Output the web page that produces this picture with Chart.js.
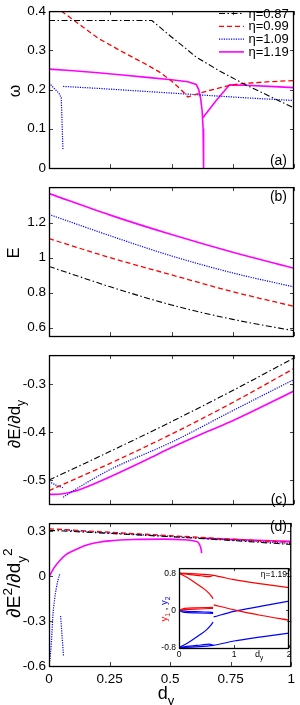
<!DOCTYPE html>
<html>
<head>
<meta charset="utf-8">
<script src="https://cdn.jsdelivr.net/npm/chart.js@4.4.1/dist/chart.umd.min.js"></script>
<style>
  html, body { margin: 0; padding: 0; background: #fff; }
  #wrap { position: relative; width: 300px; height: 705px; overflow: hidden; background: #fff; }
  #wrap canvas { position: absolute; }
</style>
</head>
<body>
<div id="wrap"></div>
<script>
// values
const etaLabels = ['η=0.87', 'η=0.99', 'η=1.09', 'η=1.19'];
const xTicks = [0, 0.25, 0.5, 0.75, 1];

// (a) omega vs dy  (null = break in the curve)
const dyA087 = [0, 0.42, 0.5, 0.55, 0.6, 0.7, 0.8, 0.9, 1];
const omega087 = [0.376, 0.376, 0.334, 0.309, 0.283, 0.246, 0.213, 0.183, 0.153];
const dyA099 = [0.05, 0.1, 0.2, 0.3, 0.4, 0.45, 0.5, 0.54, 0.567, 0.6, 0.65, 0.7, 0.737, 0.8, 0.9, 1];
const omega099 = [0.4, 0.377, 0.331, 0.296, 0.263, 0.245, 0.222, 0.199, 0.181, 0.188, 0.197, 0.205, 0.211, 0.216, 0.22, 0.223];
const dyA109 = [0, 0.041, 0.05, 0.052, 0.054, 0.057, 0.0572, 0.0575, 0.2, 0.4, 0.6, 0.8, 1];
const omega109 = [0.217, 0.19, 0.179, 0.14, 0.1, 0.045, null, 0.208, 0.203, 0.195, 0.187, 0.179, 0.172];
const dyA119 = [0, 0.1, 0.2, 0.3, 0.4, 0.5, 0.567, 0.601, 0.611, 0.619, 0.625, 0.629, 0.631, 0.6305, 0.628, 0.68, 0.737, 0.8, 0.9, 1];
const omega119 = [0.252, 0.248, 0.243, 0.237, 0.231, 0.225, 0.22, 0.213, 0.2, 0.177, 0.146, 0.1, 0, null, 0.128, 0.17, 0.212, 0.211, 0.208, 0.205];

// (b) E vs dy
const dyB = [0, 0.25, 0.5, 0.75, 1];
const energy087 = [0.95, 0.834, 0.73, 0.648, 0.583];
const energy099 = [1.109, 1.0, 0.902, 0.806, 0.722];
const energy109 = [1.247, 1.125, 1.01, 0.913, 0.833];
const energy119 = [1.366, 1.243, 1.132, 1.031, 0.94];

// (c) dE/ddy
const dyC = [0, 0.25, 0.5, 0.75, 1];
const slope087 = [-0.5, -0.44, -0.378, -0.313, -0.245];
const slope099 = [-0.522, -0.465, -0.404, -0.338, -0.267];
const dyC109 = [0, 0.03, 0.057, 0.0572, 0.0575, 0.1, 0.25, 0.5, 0.75, 1];
const slope109 = [-0.503, -0.511, -0.516, null, -0.536, -0.522, -0.478, -0.421, -0.355, -0.29];
const dyC119 = [0, 0.05, 0.1, 0.15, 0.25, 0.4, 0.5, 0.64, 0.75, 1];
const slope119 = [-0.53, -0.529, -0.524, -0.515, -0.493, -0.457, -0.432, -0.4, -0.376, -0.314];

// (d) d2E/ddy2
const dyD = [0, 0.25, 0.5, 0.75, 1];
const curv087 = [0.308, 0.287, 0.265, 0.24, 0.213];
const curv099 = [0.318, 0.295, 0.272, 0.249, 0.226];
const dyD109 = [0, 0.003, 0.01, 0.016, 0.023, 0.03, 0.037, 0.044, 0.046, 0.048, 0.054, 0.06, 0.0605, 0.061, 0.25, 0.5, 0.75, 1];
const curv109 = [-0.6, -0.568, -0.438, -0.265, -0.156, -0.081, -0.026, 0.013, null, -0.265, -0.4, -0.536, null, 0.31, 0.29, 0.268, 0.244, 0.22];
const dyD119 = [0, 0.02, 0.044, 0.07, 0.098, 0.153, 0.207, 0.25, 0.35, 0.478, 0.55, 0.6, 0.615, 0.622, 0.628, 0.63, 0.6302, 0.631, 0.75, 1];
const curv119 = [-0.003, 0.055, 0.104, 0.145, 0.169, 0.208, 0.228, 0.237, 0.246, 0.249, 0.245, 0.236, 0.228, 0.21, 0.18, 0.155, null, 0.255, 0.247, 0.234];

// inset: y1 (red), y2 (blue) vs dy, eta = 1.19
const inTicksX = [0, 1, 2];
const inTicksY = [-0.8, 0, 0.8];
const inDyOuter = [0, 0.3, 0.62, 1, 1.5, 2];
const inY1Outer = [0.8, 0.785, 0.755, 0.66, 0.57, 0.49];
const inY2Outer = [-0.8, -0.785, -0.755, -0.66, -0.57, -0.49];
const inDyLens = [0, 0.2, 0.4, 0.55, 0.62];
const inY1Lens = [0.8, 0.77, 0.745, 0.725, 0.75];
const inY2Lens = [-0.8, -0.77, -0.745, -0.725, -0.75];
const inDyDiag = [0, 0.1, 0.2, 0.3, 0.4, 0.5, 0.58, 0.62];
const inY1Diag = [0.8, 0.74, 0.67, 0.59, 0.51, 0.42, 0.32, 0.25];
const inY2Diag = [-0.8, -0.74, -0.67, -0.59, -0.51, -0.42, -0.32, -0.25];
const inDyMidA = [0, 0.1, 0.3, 0.62];
const inY1MidA = [0, 0.045, 0.055, 0.065];
const inY2MidA = [0, -0.045, -0.055, -0.065];
const inDyMidB = [0, 0.15, 0.4, 0.62];
const inY1MidB = [0, 0.02, 0.03, 0.045];
const inY2MidB = [0, -0.02, -0.03, -0.045];
const inDyAfter = [0.63, 1, 1.5, 2];
const inY1After = [0.12, 0.01, -0.11, -0.21];
const inY2After = [-0.14, -0.02, 0.09, 0.2];

const FONT = "'Liberation Sans', Arial, sans-serif";
Chart.defaults.font.family = FONT;

const styles = [
    { color: '#000000', dash: [6, 2.5, 1.5, 2.5], width: 1.1 },
    { color: '#ff0000', dash: [5, 3], width: 1.3 },
    { color: '#0000ff', dash: [1.2, 1.2], width: 1.2 },
    { color: '#ff00ff', dash: [], width: 1.6 }
];

function series(dy, vals, k, smooth) {
    return {
        data: dy.map((x, i) => ({ x: x, y: vals[i] })),
        borderColor: styles[k].color,
        borderDash: styles[k].dash,
        borderWidth: styles[k].width,
        pointRadius: 0,
        fill: false,
        spanGaps: false,
        tension: 0,
        cubicInterpolationMode: smooth ? 'monotone' : 'default'
    };
}

function insetLine(dy, vals, color) {
    return {
        data: dy.map((x, i) => ({ x: x, y: vals[i] })),
        borderColor: color,
        borderWidth: 1.2,
        pointRadius: 0,
        fill: false,
        cubicInterpolationMode: 'monotone'
    };
}

// text with sub/superscripts; parts = [text, level(-1 sub, 0, 1 sup), color]
function drawRich(ctx, parts, x, y, size, rotate, align) {
    ctx.save();
    ctx.translate(x, y);
    if (rotate) ctx.rotate(-Math.PI / 2);
    let total = 0;
    const widths = parts.map(p => {
        ctx.font = (p[1] ? size * 0.72 : size) + 'px ' + FONT;
        const w = ctx.measureText(p[0]).width;
        total += w;
        return w;
    });
    let cx = align === 'right' ? -total : (align === 'left' ? 0 : -total / 2);
    ctx.textAlign = 'left';
    ctx.textBaseline = 'alphabetic';
    parts.forEach((p, i) => {
        ctx.font = (p[1] ? size * 0.72 : size) + 'px ' + FONT;
        ctx.fillStyle = p[2] || '#000';
        const shift = p[1] === -1 ? size * 0.3 : (p[1] === 1 ? -size * 0.42 : 0);
        ctx.fillText(p[0], cx, size * 0.36 + shift);
        cx += widths[i];
    });
    ctx.restore();
}

// frame, inward ticks, labels
const deco = {
    id: 'deco',
    afterDraw(chart, args, o) {
        const ctx = chart.ctx, a = chart.chartArea;
        const sx = chart.scales.x, sy = chart.scales.y;
        ctx.save();
        ctx.strokeStyle = '#444';
        ctx.lineWidth = 1;
        ctx.beginPath();
        o.xTicks.forEach(v => {
            const x = Math.round(sx.getPixelForValue(v)) + 0.5;
            ctx.moveTo(x, a.bottom); ctx.lineTo(x, a.bottom - o.tick);
            ctx.moveTo(x, a.top); ctx.lineTo(x, a.top + o.tick);
        });
        o.yTicks.forEach(v => {
            const y = Math.round(sy.getPixelForValue(v)) + 0.5;
            ctx.moveTo(a.left, y); ctx.lineTo(a.left + o.tick, y);
            ctx.moveTo(a.right, y); ctx.lineTo(a.right - o.tick, y);
        });
        ctx.stroke();
        ctx.strokeStyle = '#000';
        ctx.lineWidth = 1.3;
        ctx.strokeRect(a.left + 0.5, a.top + 0.5, a.right - a.left - 1, a.bottom - a.top);

        // page coordinates from here on
        ctx.translate(-o.left, -o.top);
        if (o.label) {
            ctx.font = o.labelSize + 'px ' + FONT;
            ctx.fillStyle = '#000';
            ctx.textAlign = 'right';
            ctx.textBaseline = 'middle';
            ctx.fillText(o.label, o.labelX, o.labelY);
        }
        if (o.title) drawRich(ctx, o.title, o.titleX, o.titleY, o.titleSize, true);
        if (o.xTitle) drawRich(ctx, o.xTitle, o.xTitleX, o.xTitleY, o.xTitleSize, false);
        if (o.legend) {
            ctx.font = '13px ' + FONT;
            ctx.textAlign = 'left';
            ctx.textBaseline = 'middle';
            etaLabels.forEach((t, k) => {
                const y = 13.5 + k * 12.8;
                ctx.beginPath();
                ctx.strokeStyle = styles[k].color;
                ctx.lineWidth = styles[k].width;
                ctx.setLineDash(styles[k].dash);
                ctx.moveTo(219, y); ctx.lineTo(244, y);
                ctx.stroke();
                ctx.setLineDash([]);
                ctx.fillStyle = '#000';
                ctx.fillText(t, 248.5, y + 0.5);
            });
        }
        ctx.restore();
    }
};

const wrap = document.getElementById('wrap');

function makeChart(cfg) {
    const cv = document.createElement('canvas');
    cv.width = cfg.w;
    cv.height = cfg.h;
    cv.style.left = cfg.left + 'px';
    cv.style.top = cfg.top + 'px';
    wrap.appendChild(cv);
    const bottomSpace = cfg.top + cfg.h - cfg.area.bottom;
    const tickFont = { family: FONT, size: cfg.fontSize };
    return new Chart(cv.getContext('2d'), {
        type: 'line',
        data: { datasets: cfg.datasets },
        options: {
            responsive: false,
            animation: false,
            devicePixelRatio: 1,
            layout: {
                padding: {
                    left: 0,
                    right: cfg.left + cfg.w - cfg.area.right,
                    top: cfg.area.top - cfg.top,
                    bottom: cfg.showX ? 0 : bottomSpace
                }
            },
            plugins: {
                legend: { display: false },
                tooltip: { enabled: false },
                deco: Object.assign({ left: cfg.left, top: cfg.top, xTicks: cfg.xTicks, yTicks: cfg.yTicks, tick: cfg.tick }, cfg.deco)
            },
            scales: {
                x: {
                    type: 'linear',
                    min: cfg.xMin,
                    max: cfg.xMax,
                    display: !!cfg.showX,
                    afterFit: s => { s.height = bottomSpace; },
                    afterBuildTicks: s => { s.ticks = cfg.xTicks.map(v => ({ value: v })); },
                    grid: { display: false, drawTicks: false },
                    border: { display: false },
                    ticks: { padding: cfg.xPad, font: tickFont, color: '#000', maxRotation: 0, autoSkip: false, callback: v => String(v) }
                },
                y: {
                    type: 'linear',
                    min: cfg.yMin,
                    max: cfg.yMax,
                    afterFit: s => { s.width = cfg.area.left - cfg.left; },
                    afterBuildTicks: s => { s.ticks = cfg.yTicks.map(v => ({ value: v })); },
                    grid: { display: false, drawTicks: false },
                    border: { display: false },
                    ticks: { padding: 3, font: tickFont, color: '#000', autoSkip: false, callback: v => String(v) }
                }
            }
        },
        plugins: [deco]
    });
}

const area = (top, bottom) => ({ left: 49, right: 294, top: top, bottom: bottom });

makeChart({
    left: 0, top: 0, w: 300, h: 186, area: area(4, 177),
    xMin: 0, xMax: 1, xTicks: xTicks, yMin: 0, yMax: 0.4, yTicks: [0, 0.1, 0.2, 0.3, 0.4],
    fontSize: 13.5, tick: 4,
    datasets: [series(dyA087, omega087, 0), series(dyA099, omega099, 1), series(dyA109, omega109, 2), series(dyA119, omega119, 3)],
    deco: { label: '(a)', labelX: 287, labelY: 161, labelSize: 14, title: [['ω', 0]], titleX: 14, titleY: 91, titleSize: 16, legend: true }
});

makeChart({
    left: 0, top: 176, w: 300, h: 178, area: area(183, 345),
    xMin: 0, xMax: 1, xTicks: xTicks, yMin: 0.553, yMax: 1.403, yTicks: [0.6, 0.8, 1, 1.2],
    fontSize: 13.5, tick: 4,
    datasets: [series(dyB, energy087, 0, true), series(dyB, energy099, 1, true), series(dyB, energy109, 2, true), series(dyB, energy119, 3, true)],
    deco: { label: '(b)', labelX: 287, labelY: 197, labelSize: 14, title: [['E', 0]], titleX: 13, titleY: 253, titleSize: 16 }
});

makeChart({
    left: 0, top: 344, w: 300, h: 178, area: area(351, 513),
    xMin: 0, xMax: 1, xTicks: xTicks, yMin: -0.55, yMax: -0.239, yTicks: [-0.5, -0.4, -0.3],
    fontSize: 13.5, tick: 4,
    datasets: [series(dyC, slope087, 0, true), series(dyC, slope099, 1, true), series(dyC109, slope109, 2, true), series(dyC119, slope119, 3, true)],
    deco: { label: '(c)', labelX: 287, labelY: 500, labelSize: 14, title: [['∂E/∂d', 0], ['y', -1]], titleX: 14, titleY: 424, titleSize: 17 }
});

makeChart({
    left: 0, top: 512, w: 300, h: 193, area: area(519, 666), showX: true, xPad: 5,
    xMin: 0, xMax: 1, xTicks: xTicks, yMin: -0.6, yMax: 0.356, yTicks: [-0.6, -0.3, 0, 0.3],
    fontSize: 13.5, tick: 4,
    datasets: [series(dyD, curv087, 0, true), series(dyD, curv099, 1, true), series(dyD109, curv109, 2, true), series(dyD119, curv119, 3, true)],
    deco: {
        label: '(d)', labelX: 287, labelY: 527, labelSize: 14,
        title: [['∂E', 0], ['2', 1], ['/∂d', 0], ['y', -1], ['2', 1]], titleX: 13, titleY: 583, titleSize: 19,
        xTitle: [['d', 0], ['y', -1]], xTitleX: 166, xTitleY: 693, xTitleSize: 18
    }
});

// inset
makeChart({
    left: 150, top: 560, w: 145, h: 105, area: { left: 179, right: 289, top: 567, bottom: 648 }, showX: true, xPad: 2,
    xMin: 0, xMax: 2, xTicks: inTicksX, yMin: -0.81, yMax: 0.91, yTicks: inTicksY,
    fontSize: 8.5, tick: 3,
    datasets: [
        insetLine(inDyOuter, inY1Outer, '#ff0000'), insetLine(inDyLens, inY1Lens, '#ff0000'), insetLine(inDyDiag, inY1Diag, '#ff0000'),
        insetLine(inDyMidA, inY1MidA, '#ff0000'), insetLine(inDyMidB, inY1MidB, '#ff0000'), insetLine(inDyAfter, inY1After, '#ff0000'),
        insetLine(inDyOuter, inY2Outer, '#0000ff'), insetLine(inDyLens, inY2Lens, '#0000ff'), insetLine(inDyDiag, inY2Diag, '#0000ff'),
        insetLine(inDyMidA, inY2MidA, '#0000ff'), insetLine(inDyMidB, inY2MidB, '#0000ff'), insetLine(inDyAfter, inY2After, '#0000ff')
    ],
    deco: {
        label: 'η=1.19', labelX: 287, labelY: 575, labelSize: 8.5,
        title: [['y', 0, '#ff0000'], ['1', -1, '#ff0000'], [' , ', 0, '#000'], ['y', 0, '#0000ff'], ['2', -1, '#0000ff']],
        titleX: 164, titleY: 609, titleSize: 9.5,
        xTitle: [['d', 0], ['y', -1]], xTitleX: 259, xTitleY: 654, xTitleSize: 9
    }
});
</script>
</body>
</html>
